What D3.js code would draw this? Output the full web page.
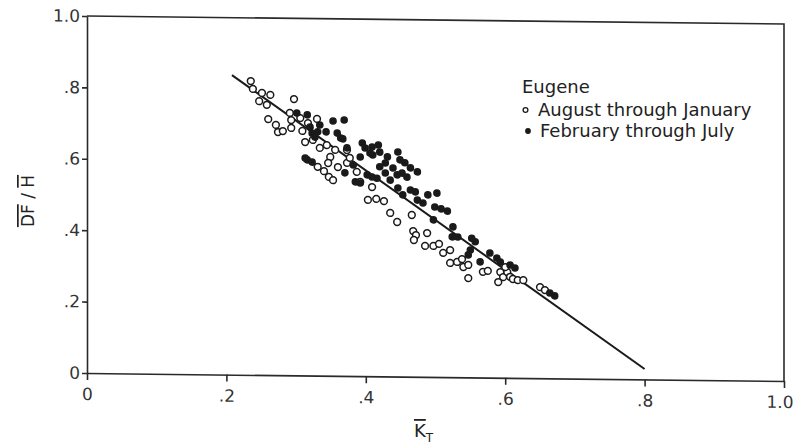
<!DOCTYPE html>
<html><head><meta charset="utf-8">
<script src="https://cdn.jsdelivr.net/npm/d3@7"></script>
<style>body{margin:0;background:#fff}svg{display:block}</style>
</head><body>
<svg id="c" width="794" height="446"></svg>
<script>
// Open circles: August through January
const augJanKT = [0.235,0.238,0.251,0.263,0.247,0.258,0.297,0.260,0.271,0.274,0.281,0.291,0.293,0.293,0.306,0.309,0.313,0.317,0.330,0.324,0.334,0.344,0.356,0.349,0.331,0.340,0.346,0.360,0.347,0.353,0.373,0.373,0.377,0.387,0.392,0.409,0.403,0.415,0.426,0.435,0.445,0.466,0.468,0.472,0.469,0.488,0.485,0.497,0.505,0.511,0.521,0.521,0.531,0.538,0.540,0.547,0.547,0.568,0.575,0.593,0.597,0.603,0.607,0.590,0.611,0.618,0.626,0.650,0.657,0.600];
const augJanDF = [0.823,0.801,0.790,0.785,0.767,0.757,0.774,0.717,0.701,0.681,0.684,0.735,0.715,0.693,0.721,0.685,0.654,0.707,0.719,0.660,0.638,0.646,0.633,0.613,0.585,0.573,0.596,0.585,0.557,0.548,0.633,0.597,0.611,0.572,0.544,0.530,0.494,0.497,0.491,0.458,0.433,0.453,0.408,0.397,0.383,0.403,0.367,0.367,0.373,0.348,0.356,0.320,0.323,0.331,0.309,0.315,0.278,0.296,0.299,0.296,0.282,0.296,0.283,0.268,0.277,0.274,0.274,0.255,0.247,0.310];
// Filled circles: February through July
const febJulKT = [0.301,0.316,0.320,0.323,0.327,0.343,0.353,0.369,0.359,0.364,0.316,0.323,0.313,0.373,0.370,0.367,0.395,0.399,0.409,0.418,0.420,0.431,0.446,0.449,0.456,0.464,0.474,0.439,0.445,0.452,0.459,0.385,0.392,0.402,0.416,0.428,0.435,0.446,0.464,0.471,0.453,0.489,0.502,0.499,0.508,0.517,0.410,0.392,0.406,0.428,0.420,0.409,0.497,0.525,0.524,0.532,0.552,0.557,0.550,0.547,0.564,0.578,0.588,0.593,0.607,0.614,0.664,0.671,0.474,0.482,0.334,0.331,0.382];
const febJulDF = [0.735,0.730,0.696,0.679,0.668,0.683,0.714,0.717,0.680,0.666,0.604,0.598,0.609,0.639,0.569,0.664,0.653,0.639,0.642,0.648,0.628,0.615,0.629,0.607,0.599,0.585,0.574,0.584,0.565,0.570,0.559,0.544,0.541,0.564,0.555,0.570,0.550,0.528,0.523,0.518,0.509,0.510,0.515,0.476,0.471,0.465,0.620,0.614,0.625,0.598,0.587,0.558,0.440,0.421,0.393,0.393,0.390,0.380,0.357,0.343,0.324,0.349,0.335,0.324,0.316,0.308,0.239,0.231,0.495,0.487,0.702,0.683,0.591];
// Fitted line end points
const lineKT = [0.208, 0.800];
const lineDF = [0.839, 0.029];
const tickValues = [0, 0.2, 0.4, 0.6, 0.8, 1.0];
const tickLabels = ["0", ".2", ".4", ".6", ".8", "1.0"];
const legendTitle = "Eugene";
const seriesNames = ["August through January", "February through July"];

const svg = d3.select("#c");
const x = d3.scaleLinear().domain([0, 1]).range([87, 784]);
const y = d3.scaleLinear().domain([0, 1]).range([373, 16]);
const FONT = "'DejaVu Sans', sans-serif";
const ink = "#1a1a1a";

// scanned page is slightly tilted: skew the plot frame
const sk = 8 / 697;
const g = svg.append("g").attr("transform", `matrix(1,${sk},0,1,0,${-sk * 87})`);

const fmt = d => tickLabels[tickValues.indexOf(d)];

const xa = g.append("g").attr("transform", `translate(0,${y(0)})`)
  .call(d3.axisBottom(x).tickValues(tickValues).tickFormat(fmt).tickSize(7).tickSizeOuter(0).tickPadding(8));
const ya = g.append("g").attr("transform", `translate(${x(0)},0)`)
  .call(d3.axisLeft(y).tickValues(tickValues).tickFormat(fmt).tickSize(5).tickSizeOuter(0).tickPadding(2));
[xa, ya].forEach(a => {
  a.selectAll("path,line").attr("stroke", "#2a2a2a").attr("stroke-width", 1.6);
  a.selectAll("text").attr("font-family", FONT).attr("font-size", 17).attr("fill", "#333");
});
// keep the last x label inside the picture
xa.selectAll(".tick text").filter(d => d === 1).attr("text-anchor", "end").attr("dx", 9);

// frame top and right
g.append("path")
  .attr("d", `M${x(0)},${y(1)}H${x(1)}V${y(0)}`)
  .attr("fill", "none").attr("stroke", "#2a2a2a").attr("stroke-width", 1.6);

// regression line
g.append("line")
  .attr("x1", x(lineKT[0])).attr("y1", y(lineDF[0]))
  .attr("x2", x(lineKT[1])).attr("y2", y(lineDF[1]))
  .attr("stroke", ink).attr("stroke-width", 2);

// points
g.append("g").selectAll("circle").data(augJanKT.map((k, i) => [k, augJanDF[i]]))
  .join("circle").attr("cx", d => x(d[0])).attr("cy", d => y(d[1])).attr("r", 3.4)
  .attr("fill", "#fff").attr("stroke", ink).attr("stroke-width", 1.5);
g.append("g").selectAll("circle").data(febJulKT.map((k, i) => [k, febJulDF[i]]))
  .join("circle").attr("cx", d => x(d[0])).attr("cy", d => y(d[1])).attr("r", 3.8)
  .attr("fill", ink);

// legend
const lg = svg.append("g").attr("font-family", FONT).attr("font-size", 18).attr("fill", "#222");
lg.append("text").attr("x", 522).attr("y", 93).text(legendTitle);
lg.append("circle").attr("cx", 525.5).attr("cy", 110).attr("r", 2.4).attr("fill", "#fff").attr("stroke", ink).attr("stroke-width", 1.3);
lg.append("text").attr("x", 538).attr("y", 116).text(seriesNames[0]);
lg.append("circle").attr("cx", 528).attr("cy", 131).attr("r", 2.9).attr("fill", ink);
lg.append("text").attr("x", 540).attr("y", 137).text(seriesNames[1]);

// axis titles
const yt = svg.append("text").attr("transform", "translate(34,201) rotate(-90)")
  .attr("text-anchor", "middle").attr("font-family", FONT).attr("font-size", 17).attr("fill", "#222");
yt.append("tspan").attr("text-decoration", "overline").text("DF");
yt.append("tspan").text(" / ");
yt.append("tspan").attr("text-decoration", "overline").text("H");

const xt = svg.append("text").attr("x", 414).attr("y", 437)
  .attr("font-family", FONT).attr("font-size", 18).attr("fill", "#222");
xt.append("tspan").attr("text-decoration", "overline").text("K");
xt.append("tspan").attr("font-size", 12).attr("dy", 5).text("T");
</script>
</body></html>
